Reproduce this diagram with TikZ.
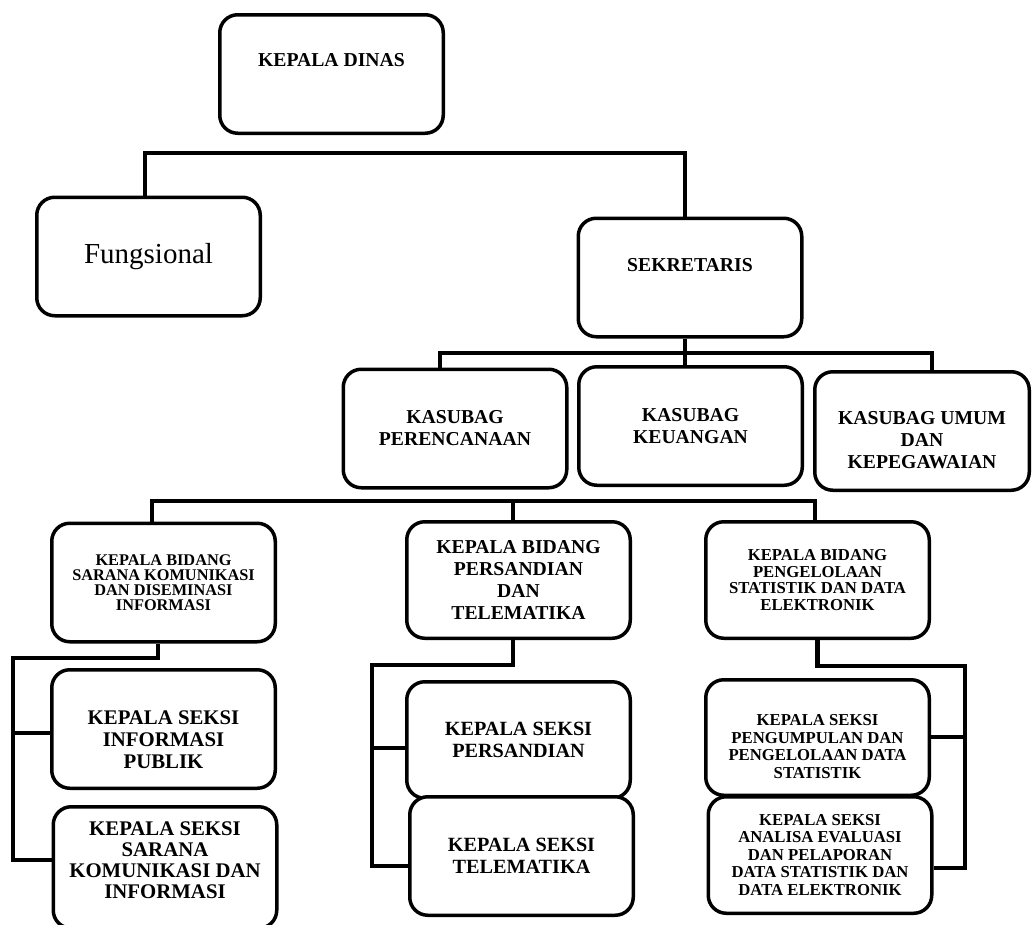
\documentclass[tikz,border=0pt]{standalone}
\usepackage{fontspec}
\setmainfont{Liberation Serif}
\tikzset{
    box/.style={draw, line width=3.5pt, rounded corners=18pt, fill=white,
        minimum width=223.5pt, minimum height=118.5pt, align=center, inner sep=0pt},
    conn/.style={line width=4.5pt},
    big/.style={font=\fontsize{19.7}{22}\selectfont\bfseries, align=center},
    small/.style={font=\fontsize{16.7}{16.5}\selectfont\bfseries, align=center},
}
\begin{document}
\begin{tikzpicture}[x=1pt,y=-1pt]
        \useasboundingbox (0,0) rectangle (1033,924);

        \node[box] (kd) at (331.5,74) {};
        \node[big] (kdt) at ([yshift=14pt]kd.center) {KEPALA DINAS};

        \node[box, font=\fontsize{29}{32}\selectfont] (fung) at (148.5,256.5) {Fungsional};

        \node[box] (sek) at (690,277.5) {};
        \node[big] (sekt) at ([yshift=12pt]sek.center) {SEKRETARIS};

        \node[box, big] (kp) at (455,428.5) {KASUBAG\\PERENCANAAN};
        \node[box, big] (kk) at (690.5,426) {KASUBAG\\KEUANGAN};
        \node[box, minimum width=214.5pt] (ku) at (922,431) {};
        \node[big] (kut) at ([yshift=-9pt]ku.center) {KASUBAG UMUM\\DAN\\KEPEGAWAIAN};

        \node[box, small, font=\fontsize{16.3}{15}\selectfont\bfseries] (bsk) at (163.5,582.5)
            {KEPALA BIDANG\\SARANA KOMUNIKASI\\DAN DISEMINASI\\INFORMASI};
        \node[box, big, minimum height=116.5pt] (bpt) at (518.5,580)
            {KEPALA BIDANG\\PERSANDIAN\\DAN\\TELEMATIKA};
        \node[box, small, minimum height=116.5pt] (bps) at (817.5,580)
            {KEPALA BIDANG\\PENGELOLAAN\\STATISTIK DAN DATA\\ELEKTRONIK};

        \node[box] (sip) at (163.5,729) {};
        \node[big, font=\fontsize{20.8}{22}\selectfont\bfseries] (sipt) at ([yshift=-11pt]sip.center)
            {KEPALA SEKSI\\INFORMASI\\PUBLIK};
        \node[box, minimum height=121.5pt] (ssk) at (165,867.5) {};
        \node[big, font=\fontsize{20.8}{21}\selectfont\bfseries] (sskt) at ([yshift=7.5pt]ssk.center)
            {KEPALA SEKSI\\SARANA\\KOMUNIKASI DAN\\INFORMASI};

        \node[box, big, font=\fontsize{20.2}{22}\selectfont\bfseries, minimum height=116.5pt] (sp) at (518.5,740)
            {KEPALA SEKSI\\PERSANDIAN};
        \node[box, big, font=\fontsize{20.2}{22}\selectfont\bfseries] (st) at (521.5,856)
            {KEPALA SEKSI\\TELEMATIKA};

        \node[box, minimum height=115.5pt] (spd) at (817.5,737.5) {};
        \node[small, font=\fontsize{16.7}{17.5}\selectfont\bfseries] (spdt) at ([yshift=-9pt]spd.center)
            {KEPALA SEKSI\\PENGUMPULAN DAN\\PENGELOLAAN DATA\\STATISTIK};
        \node[box, small, font=\fontsize{16.7}{17.5}\selectfont\bfseries, minimum height=116.5pt] (sae) at (820,855)
            {KEPALA SEKSI\\ANALISA EVALUASI\\DAN PELAPORAN\\DATA STATISTIK DAN\\DATA ELEKTRONIK};

        \coordinate (b1) at (415,153);
        \draw[conn] ([xshift=-3.5pt]fung.north) |- (b1) -| ([xshift=-5pt]sek.north);

        \coordinate (b2) at (685,353);
        \draw[conn] ([xshift=-15pt]kp.north) |- (b2) -| ([xshift=10pt]ku.north);
        \draw[conn] ([xshift=-5pt]sek.south) -- (b2) -- (b2 |- kk.north);

        \coordinate (b3) at (513,501);
        \draw[conn] ([xshift=-11.5pt]bsk.north) |- (b3) -| ([xshift=-2.5pt]bps.north);
        \draw[conn] (b3) -- (b3 |- bpt.north);

        \coordinate (l1) at (13,658);
        \coordinate (l2) at (13,733);
        \draw[conn] ([xshift=-5.5pt]bsk.south) |- (l1) |- ([yshift=7.5pt]ssk.west);
        \draw[conn] (l2) -- (l2 -| sip.west);

        \coordinate (m1) at (372,665);
        \coordinate (m2) at (372,748);
        \draw[conn] ([xshift=-5.5pt]bpt.south) |- (m1) |- ([yshift=-10pt]st.west);
        \draw[conn] (m2) -- (m2 -| sp.west);

        \coordinate (r1) at (965,666);
        \coordinate (r2) at (965,737);
        \draw[conn] (bps.south) |- (r1) |- ([yshift=-13pt]sae.east);
        \draw[conn] (r2) -- (r2 -| spd.east);

\end{tikzpicture}
\end{document}
